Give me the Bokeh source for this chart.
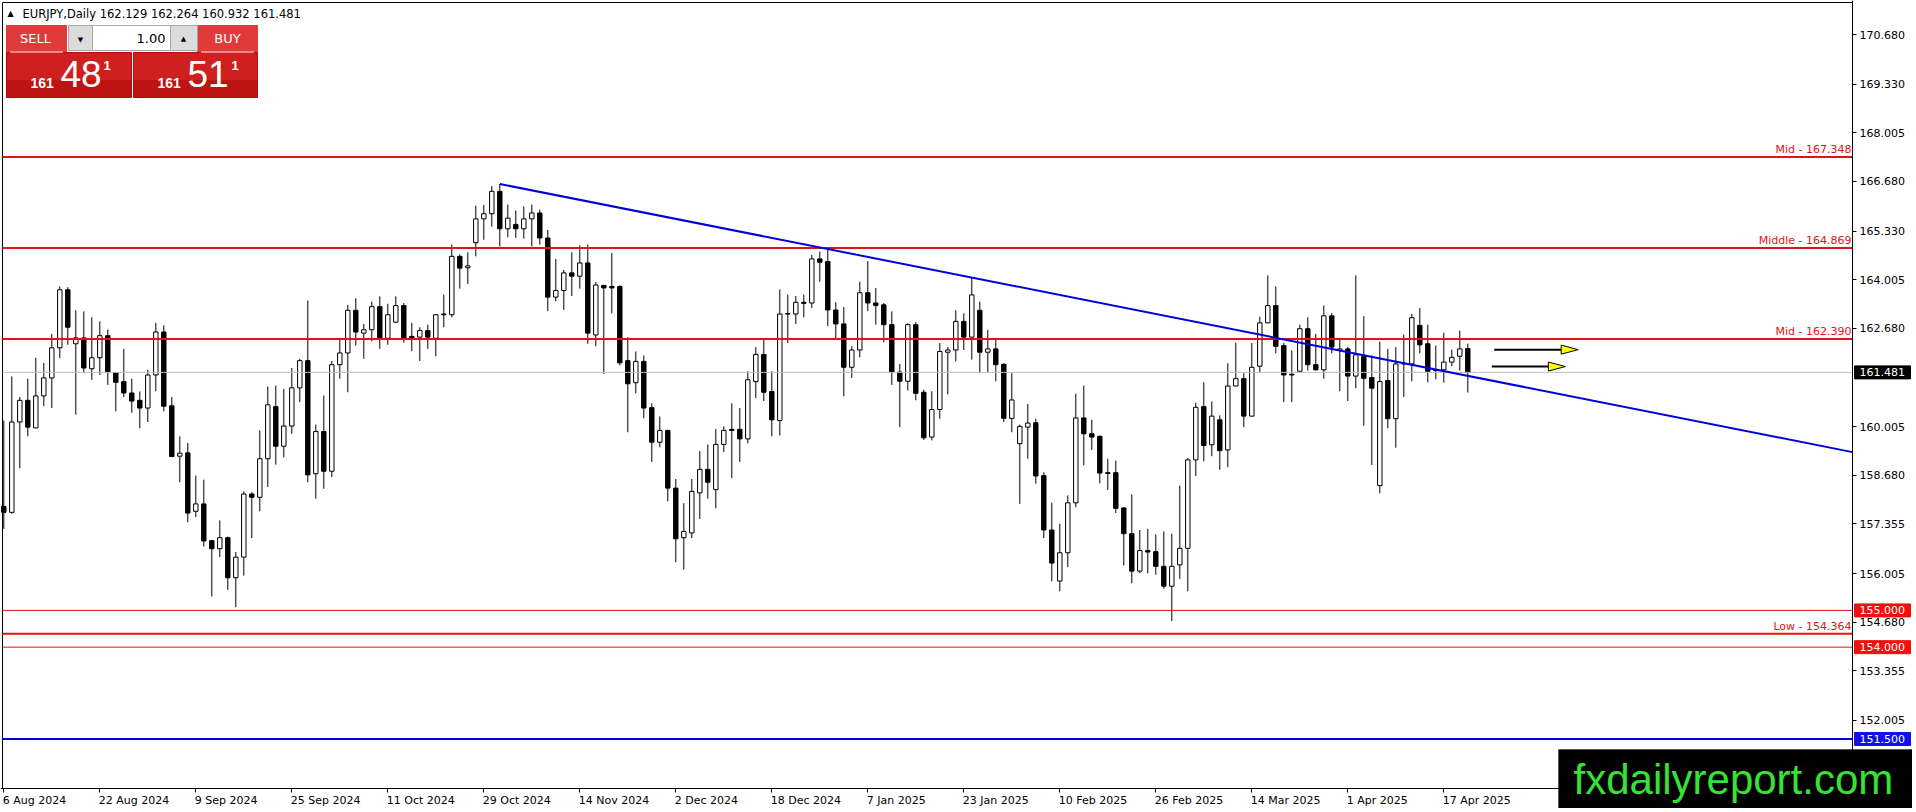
from bokeh.plotting import figure
from bokeh.models import (Range1d, FixedTicker, Label, BoxAnnotation, LinearAxis,
                          ColumnDataSource, PrintfTickFormatter)
from bokeh.embed import file_html
from bokeh.resources import INLINE

# ---------------- data ----------------
symbol = "EURJPY,Daily"
tick_idx = list(range(0, 181, 12))
tick_labels = ["6 Aug 2024", "22 Aug 2024", "9 Sep 2024", "25 Sep 2024", "11 Oct 2024",
               "29 Oct 2024", "14 Nov 2024", "2 Dec 2024", "18 Dec 2024", "7 Jan 2025",
               "23 Jan 2025", "10 Feb 2025", "26 Feb 2025", "14 Mar 2025", "1 Apr 2025",
               "17 Apr 2025"]
price_ticks = [170.680, 169.330, 168.005, 166.680, 165.330, 164.005, 162.680,
               160.005, 158.680, 157.355, 156.005, 154.680, 153.355, 152.005]

opens = [157.83, 157.67, 160.13, 160.72, 159.97, 160.84, 161.33, 162.15, 163.73, 162.26,
         162.42, 161.58, 161.88, 162.48, 161.47, 161.23, 160.92, 160.72, 160.51, 161.41,
         162.58, 160.57, 159.20, 159.29, 157.70, 157.90, 156.90, 156.68, 156.98, 155.89,
         156.45, 158.17, 158.08, 159.13, 160.55, 159.47, 160.02, 161.06, 161.80, 158.72,
         159.87, 158.79, 161.69, 162.01, 163.17, 162.55, 162.64, 163.27, 162.41, 162.85,
         163.30, 162.46, 162.44, 162.62, 162.41, 163.07, 163.05, 164.64, 164.33, 165.01,
         165.66, 165.80, 166.41, 165.39, 165.51, 165.39, 165.66, 165.82, 165.14, 163.53,
         163.71, 164.19, 164.10, 164.46, 162.50, 163.85, 163.82, 163.82, 161.80, 161.20,
         161.78, 160.52, 159.58, 159.90, 158.33, 156.98, 157.11, 158.20, 158.84, 158.29,
         159.52, 159.93, 159.93, 159.67, 161.23, 161.97, 160.96, 160.17, 163.07, 163.07,
         163.39, 163.37, 164.57, 164.50, 163.18, 162.80, 161.62, 162.09, 163.65, 163.37,
         163.32, 162.78, 161.49, 161.24, 162.78, 160.94, 159.72, 160.47, 162.03, 162.09,
         162.87, 162.44, 163.17, 162.03, 162.12, 161.70, 160.23, 159.54, 159.99, 160.11,
         158.67, 157.19, 155.80, 156.57, 157.93, 160.24, 159.81, 159.74, 158.75, 158.75,
         157.79, 157.09, 156.07, 156.63, 156.60, 156.20, 155.66, 156.24, 156.69, 159.10,
         160.55, 159.51, 160.19, 159.37, 161.11, 161.31, 160.29, 161.65, 162.83, 163.30,
         162.21, 161.43, 161.51, 162.67, 161.69, 161.55, 163.02, 162.08, 162.12, 161.38,
         161.91, 161.34, 158.40, 161.26, 160.22, 161.71, 161.71, 162.76, 162.26, 161.55,
         161.55, 161.76, 161.92, 162.129]
highs = [160.17, 161.37, 160.81, 161.31, 161.88, 161.74, 162.53, 163.82, 163.80, 163.17,
         163.14, 162.98, 162.87, 162.65, 161.49, 162.12, 161.31, 160.96, 161.55, 162.83,
         162.76, 160.81, 159.74, 159.56, 158.67, 158.56, 156.92, 157.45, 157.01, 156.59,
         158.24, 158.22, 159.90, 161.10, 161.12, 161.03, 161.60, 161.85, 163.44, 160.06,
         160.85, 161.79, 162.42, 163.32, 163.50, 162.80, 163.41, 163.55, 163.35, 163.55,
         163.37, 162.83, 162.71, 162.78, 163.07, 163.60, 164.96, 164.69, 164.75, 166.02,
         166.04, 166.55, 166.61, 166.05, 165.89, 166.00, 166.05, 165.91, 165.36, 164.57,
         164.27, 164.75, 164.94, 164.96, 163.94, 163.86, 164.73, 163.85, 162.44, 162.05,
         161.94, 160.64, 160.28, 159.92, 158.58, 157.92, 158.58, 159.34, 159.52, 159.94,
         160.01, 160.64, 160.51, 161.51, 162.17, 162.37, 161.51, 163.74, 163.60, 163.56,
         163.60, 164.68, 164.77, 164.84, 163.39, 163.26, 162.19, 163.95, 164.51, 163.78,
         163.37, 163.14, 161.71, 162.82, 162.85, 161.01, 160.97, 162.28, 162.17, 163.17,
         163.09, 164.07, 163.41, 162.64, 162.42, 161.73, 161.46, 160.06, 160.62, 160.22,
         158.76, 157.93, 157.36, 158.13, 160.90, 161.12, 160.19, 159.76, 159.13, 159.08,
         157.81, 158.16, 157.19, 157.22, 157.07, 157.15, 157.09, 158.40, 159.15, 160.65,
         161.21, 160.69, 160.31, 161.73, 162.29, 161.46, 162.28, 163.00, 164.12, 163.82,
         162.28, 162.08, 162.78, 162.98, 162.53, 163.30, 163.10, 162.42, 162.17, 164.12,
         163.01, 161.94, 162.32, 162.12, 162.17, 162.51, 163.07, 163.23, 162.78, 162.21,
         162.56, 162.10, 162.62, 162.264]
lows = [157.22, 157.63, 158.87, 159.74, 159.96, 160.56, 160.51, 161.87, 162.23, 160.33,
        161.47, 161.28, 161.41, 161.14, 160.42, 160.81, 160.38, 159.96, 160.13, 160.97,
        160.42, 159.17, 158.49, 157.40, 157.54, 156.74, 155.38, 156.45, 155.56, 155.09,
        155.95, 156.97, 157.70, 158.36, 158.97, 159.17, 159.81, 160.67, 158.49, 158.04,
        158.31, 158.63, 161.31, 160.94, 162.21, 161.85, 162.33, 162.12, 162.23, 162.82,
        162.29, 162.06, 161.79, 162.12, 161.92, 162.71, 162.98, 163.76, 163.89, 164.64,
        165.09, 165.45, 164.91, 165.16, 165.14, 165.12, 164.91, 164.96, 163.15, 163.42,
        163.18, 163.56, 163.76, 162.26, 162.19, 161.44, 163.09, 161.67, 159.85, 160.91,
        160.23, 159.04, 159.44, 157.97, 156.31, 156.11, 156.97, 157.49, 158.04, 157.78,
        159.31, 158.60, 159.04, 159.55, 160.78, 160.70, 159.74, 159.76, 162.28, 162.80,
        162.98, 163.23, 163.95, 162.74, 162.39, 160.83, 161.33, 161.89, 163.15, 162.78,
        162.30, 161.14, 159.99, 160.99, 160.72, 159.64, 159.63, 160.22, 160.88, 161.78,
        162.09, 161.83, 161.46, 161.49, 161.24, 160.13, 159.85, 157.90, 159.13, 158.45,
        156.97, 155.79, 155.52, 156.18, 157.81, 158.95, 159.37, 158.46, 158.28, 157.65,
        156.22, 155.74, 156.01, 156.01, 155.97, 155.59, 154.71, 155.86, 155.52, 158.66,
        159.06, 159.20, 158.83, 158.90, 161.10, 159.99, 160.28, 161.49, 162.82, 162.00,
        160.67, 160.67, 161.50, 161.53, 161.54, 161.31, 162.00, 160.97, 160.70, 161.05,
        160.03, 158.96, 158.19, 159.96, 159.43, 160.81, 161.24, 162.00, 161.21, 161.29,
        161.20, 161.65, 161.53, 160.932]
closes = [157.67, 160.13, 160.72, 159.99, 160.84, 161.33, 162.15, 163.73, 162.71, 162.42,
          161.60, 161.88, 162.48, 161.49, 161.21, 160.92, 160.70, 160.51, 161.41, 162.58,
          160.56, 159.19, 159.28, 157.65, 157.90, 156.89, 156.68, 156.98, 155.89, 156.45,
          158.17, 158.08, 159.13, 160.60, 159.47, 160.02, 161.06, 161.80, 158.69, 159.87,
          158.79, 161.69, 162.01, 163.17, 162.58, 162.64, 163.27, 162.41, 163.05, 163.30,
          162.41, 162.41, 162.62, 162.44, 163.05, 163.05, 164.64, 164.32, 164.38, 165.66,
          165.80, 166.41, 165.39, 165.68, 165.39, 165.66, 165.82, 165.14, 163.53, 163.71,
          164.19, 164.10, 164.46, 162.55, 163.86, 163.78, 163.78, 161.74, 161.17, 161.78,
          160.51, 159.58, 159.90, 158.33, 156.95, 157.15, 158.24, 158.84, 158.49, 159.52,
          159.90, 159.90, 159.67, 161.28, 161.97, 160.94, 160.19, 163.07, 163.08, 163.39,
          163.36, 164.57, 164.48, 163.18, 162.80, 161.62, 162.09, 163.65, 163.37, 163.30,
          162.78, 161.49, 161.24, 162.78, 160.91, 159.70, 160.47, 162.05, 162.09, 162.87,
          162.44, 163.59, 162.03, 162.12, 161.69, 160.23, 160.73, 160.01, 160.10, 158.66,
          157.19, 156.29, 156.57, 157.93, 160.24, 159.81, 159.72, 158.74, 158.73, 157.78,
          157.09, 156.07, 156.63, 156.59, 156.20, 155.66, 156.20, 156.69, 159.10, 160.53,
          159.49, 160.29, 159.35, 161.11, 161.31, 160.29, 161.62, 162.83, 163.30, 162.19,
          161.41, 161.41, 162.67, 161.69, 161.55, 163.02, 162.17, 162.12, 161.38, 161.96,
          161.32, 161.05, 161.23, 160.22, 161.71, 161.73, 162.97, 162.23, 161.51, 161.53,
          161.76, 161.89, 162.12, 161.481]
ask_price = 161.511

# horizontal levels
level_prices = [167.348, 164.869, 162.390, 154.364]
level_texts = ["Mid - 167.348", "Middle - 164.869", "Mid - 162.390", "Low - 154.364"]
box_lines = [155.000, 154.000]
support_blue = 151.500
# trend line anchors (bar index, price)
trend_x = [62, 103]
trend_p = [166.61, 164.84]
# arrows (bar index start, bar index tip, price)
arrow_start = [186.3, 186.0]
arrow_tip = [196.8, 195.2]
arrow_price = [162.10, 161.64]

# ---------------- layout constants (pixels of the canvas) ----------------
FW, FH = 1912, 808          # whole canvas is the frame
PPX = 8.0                   # pixels per bar
X_FIRST = 3.3               # pixel position of bar 0
AXIS_X, AXIS_Y = 1852, 788  # price axis / time axis position
PPY = 36.73                 # pixels per price unit
P_REF, Y_REF = 170.68, 34   # a price and its pixel row

X0 = -X_FIRST / PPX
X1 = (FW - X_FIRST) / PPX
XA = (AXIS_X - X_FIRST) / PPX
XL = (2 - X_FIRST) / PPX
Y1 = P_REF + Y_REF / PPY
Y0 = P_REF - (FH - Y_REF) / PPY
YA = P_REF - (AXIS_Y - Y_REF) / PPY
YT = P_REF - (2 - Y_REF) / PPY
RED = "#e41313"
BLUE = "#0000d8"
FONT = "DejaVu Sans"

p = figure(width=FW, height=FH, x_range=Range1d(X0, X1), y_range=Range1d(Y0, Y1),
           x_axis_location=None, y_axis_location=None,
           toolbar_location=None, output_backend="svg",
           min_border=0, min_border_left=0, min_border_right=0,
           min_border_top=0, min_border_bottom=0)
p.background_fill_color = "white"
p.border_fill_color = "white"
p.outline_line_color = None
p.grid.visible = False

# price axis at the right edge of the chart area
yax = LinearAxis(fixed_location=XA, ticker=FixedTicker(ticks=price_ticks),
                 formatter=PrintfTickFormatter(format="%.3f"))
yax.major_tick_out = 4
yax.major_tick_in = 0
yax.minor_tick_line_color = None
yax.major_label_standoff = 3
yax.major_label_text_font = FONT
yax.major_label_text_font_size = "11px"
yax.major_label_text_color = "black"
yax.axis_line_color = "black"
p.add_layout(yax, "right")

# time axis (ticks; labels are written left-aligned at the ticks below)
xax = LinearAxis(fixed_location=YA, ticker=FixedTicker(ticks=tick_idx))
xax.major_label_overrides = {t: "" for t in tick_idx}
xax.major_label_text_color = None
xax.major_tick_out = 4
xax.major_tick_in = 0
xax.minor_tick_line_color = None
xax.axis_line_color = "black"
p.add_layout(xax, "below")

for t, lab in zip(tick_idx, tick_labels):
    p.add_layout(Label(x=t, y=YA, text=lab, x_offset=-1, y_offset=-5, text_align="left",
                       text_baseline="top", text_font=FONT, text_font_size="11px",
                       text_color="black"))

# chart border (left and top)
p.segment(x0=[XL, XL], y0=[YT, YT], x1=[XL, XA], y1=[YA, YT], line_color="black",
          line_width=1)

# ---------------- candles ----------------
idx = list(range(len(opens)))
src = ColumnDataSource(dict(
    x=idx, h=highs, l=lows,
    top=[max(o, c) for o, c in zip(opens, closes)],
    bottom=[min(o, c) for o, c in zip(opens, closes)],
    fill=["white" if c >= o else "black" for o, c in zip(opens, closes)],
))
p.segment(x0="x", y0="h", x1="x", y1="l", source=src, line_color="black", line_width=1)
p.vbar(x="x", width=0.55, top="top", bottom="bottom", fill_color="fill",
       line_color="black", line_width=1, source=src)

# ---------------- lines ----------------
bid = closes[-1]
p.segment(x0=[XL], y0=[bid], x1=[XA], y1=[bid], line_color="#c0c0c0", line_width=1)
n = len(level_prices)
p.segment(x0=[XL] * n, y0=level_prices, x1=[XA] * n, y1=level_prices,
          line_color=RED, line_width=2)
p.segment(x0=[XL] * len(box_lines), y0=box_lines, x1=[XA] * len(box_lines), y1=box_lines,
          line_color=RED, line_width=1)
p.segment(x0=[XL], y0=[support_blue], x1=[XA], y1=[support_blue], line_color=BLUE,
          line_width=2)
for lv, txt in zip(level_prices, level_texts):
    p.add_layout(Label(x=XA, y=lv, text=txt, text_align="right", text_baseline="bottom",
                       x_offset=-1, y_offset=1, text_color=RED, text_font=FONT,
                       text_font_size="11px"))

# trend ray
slope = (trend_p[1] - trend_p[0]) / (trend_x[1] - trend_x[0])
p.line(x=[trend_x[0], XA], y=[trend_p[0], trend_p[0] + slope * (XA - trend_x[0])],
       line_color=BLUE, line_width=2)

# arrows
hl = 17 / PPX
hh = 4.5 / PPY
xs_tri, ys_tri = [], []
for xs, xt, yp in zip(arrow_start, arrow_tip, arrow_price):
    base = xt - hl
    p.segment(x0=[xs], y0=[yp], x1=[base], y1=[yp], line_color="black", line_width=2)
    xs_tri.append([base, xt, base])
    ys_tri.append([yp + hh, yp, yp - hh])
p.patches(xs=xs_tri, ys=ys_tri, fill_color="#ffff00", line_color="black", line_width=1)

# price boxes on the axis
bh = 6.5 / PPY
for lv, col in [(bid, "black"), (box_lines[0], "#f01010"), (box_lines[1], "#f01010"),
                (support_blue, "#1010f0")]:
    p.add_layout(BoxAnnotation(left=AXIS_X + 2, right=AXIS_X + 58, top=lv + bh,
                               bottom=lv - bh, left_units="screen", right_units="screen",
                               fill_color=col, fill_alpha=1.0, line_color=col,
                               line_alpha=1.0, level="overlay"))
    p.add_layout(Label(x=XA, y=lv, x_offset=7, text=f"{lv:.3f}", text_align="left",
                       text_baseline="middle", text_color="white", text_font=FONT,
                       text_font_size="11px", level="overlay"))

# ---------------- terminal overlay (pixel positions of the screenshot) ----------------
def sbox(l, r, t, b, fill, line=None):
    p.add_layout(BoxAnnotation(left=l, right=r, top=FH - t, bottom=FH - b,
                               left_units="screen", right_units="screen",
                               top_units="screen", bottom_units="screen",
                               fill_color=fill, fill_alpha=1.0,
                               line_color=line if line else fill, line_alpha=1.0,
                               line_width=1, level="overlay"))

def stext(x, y, txt, size, color="white", align="left", baseline="middle",
          font=FONT, style="normal"):
    p.add_layout(Label(x=x, y=FH - y, x_units="screen", y_units="screen",
                       text=txt, text_align=align, text_baseline=baseline,
                       text_font=font, text_font_size=size, text_color=color,
                       text_font_style=style, level="overlay"))

stext(10, 13, "\u25b2", "8px", color="black", align="center")
stext(22, 13, f"{symbol}  {opens[-1]:.3f} {highs[-1]:.3f} {lows[-1]:.3f} {closes[-1]:.3f}",
      "11.5px", color="black")

sbox(6, 66, 25, 52, "#e03a3a")
sbox(197, 257, 25, 52, "#e03a3a")
sbox(6, 131, 52, 97, "#cf2020", "#b00a0a")
sbox(133, 257, 52, 97, "#cf2020", "#b00a0a")
sbox(7, 130, 80, 96, "#bd1313")
sbox(134, 256, 80, 96, "#bd1313")
sbox(10, 62, 51, 52, "#f08a8a")
sbox(201, 253, 51, 52, "#f08a8a")
sbox(68, 197, 25, 50, "#ffffff", "#a8a8a8")
sbox(68, 92, 25, 50, "#dcdcdc", "#a8a8a8")
sbox(170, 197, 25, 50, "#dcdcdc", "#a8a8a8")

stext(35, 38, "SELL", "13px", align="center")
stext(227, 38, "BUY", "13px", align="center")
stext(165, 38, "1.00", "13px", color="black", align="right")
stext(80, 39, "\u25bc", "7px", color="black", align="center")
stext(183, 38, "\u25b2", "7px", color="black", align="center")

bid_s = f"{bid:.3f}"
ask_s = f"{ask_price:.3f}"
for s, x_big, x_pip, x_frac in [(bid_s, 30, 60, 103), (ask_s, 157, 187, 231)]:
    stext(x_big, 82, s[:3], "14px", font="Liberation Sans", style="bold")
    stext(x_pip, 73.5, s[4:6], "37px", font="Liberation Sans")
    stext(x_frac, 64.5, s[6], "13px", font="Liberation Sans", style="bold")

# watermark box (bottom-right corner of the page)
p.add_layout(BoxAnnotation(left=1558, right=FW, top=FH - 749, bottom=0,
                           left_units="screen", right_units="screen",
                           top_units="screen", bottom_units="screen",
                           fill_color="black", fill_alpha=1.0, line_color="black",
                           level="overlay"))
p.add_layout(Label(x=1573, y=FH - 779, x_units="screen", y_units="screen",
                   text="fxdailyreport.com", text_font="Liberation Sans",
                   text_font_size="42px", text_color="#36e236",
                   text_baseline="middle", level="overlay"))

open("out.html", "w").write(file_html(p, INLINE))
